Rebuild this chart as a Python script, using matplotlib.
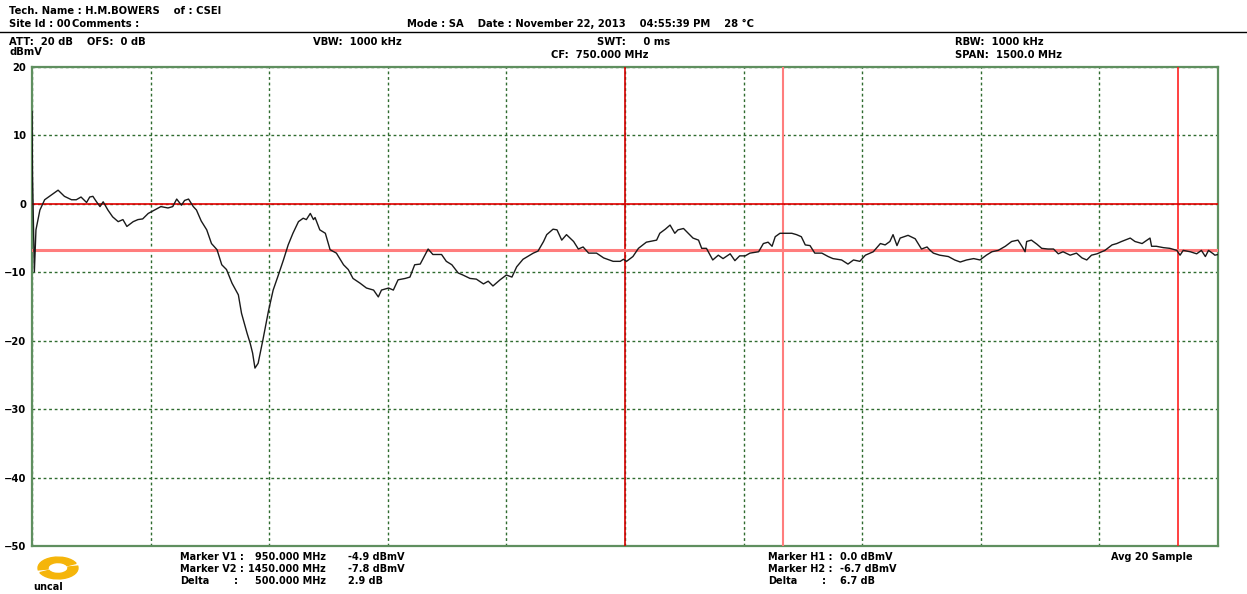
import matplotlib
matplotlib.use("Agg")
import matplotlib.pyplot as plt
from matplotlib.lines import Line2D
from matplotlib.patches import Wedge
from matplotlib import font_manager

# trace (MHz, dBmV)
freq = [0, 0.6, 3, 5, 10, 16, 22, 33, 41, 50, 56, 62, 69, 73, 77, 81, 86, 90,
        96, 102, 109, 115, 120, 128, 134, 140, 147, 155, 163, 172, 178, 183,
        189, 193, 198, 204, 208, 214, 221, 227, 234, 240, 246, 253, 261, 265,
        272, 276, 279, 282, 286, 292, 299, 305, 311, 318, 324, 330, 337, 343,
        347, 352, 356, 358, 364, 371, 377, 385, 394, 400, 406, 415, 423, 432,
        438, 442, 451, 457, 463, 472, 478, 484, 491, 501, 507, 518, 524, 531,
        539, 545, 554, 562, 571, 577, 583, 592, 600, 607, 613, 621, 634, 640,
        647, 651, 659, 664, 670, 676, 685, 691, 697, 704, 714, 723, 735, 744,
        748, 752, 760, 767, 777, 790, 794, 801, 807, 813, 817, 824, 830, 836,
        843, 847, 853, 861, 868, 874, 883, 889, 895, 902, 908, 919, 925, 931,
        936, 940, 946, 952, 961, 967, 973, 978, 984, 990, 999, 1007, 1013,
        1024, 1032, 1039, 1047, 1054, 1064, 1073, 1079, 1085, 1089, 1094, 1098,
        1108, 1117, 1125, 1132, 1136, 1140, 1148, 1159, 1167, 1174, 1182, 1191,
        1199, 1207, 1214, 1222, 1231, 1239, 1247, 1252, 1256, 1258, 1264, 1271,
        1277, 1285, 1292, 1298, 1304, 1313, 1321, 1328, 1334, 1340, 1347, 1351,
        1357, 1366, 1372, 1378, 1389, 1395, 1404, 1414, 1416, 1422, 1431, 1439,
        1448, 1452, 1456, 1465, 1473, 1479, 1484, 1488, 1494, 1496, 1500]
level = [13.5, 4.2, -9.9, -3.8, -0.9, 0.6, 1.1, 2.0, 1.1, 0.6, 0.6, 1.0, 0.2,
         1.0, 1.1, 0.4, -0.4, 0.3, -0.9, -1.9, -2.6, -2.3, -3.3, -2.6, -2.3,
         -2.2, -1.4, -0.9, -0.4, -0.6, -0.4, 0.7, -0.2, 0.5, 0.7, -0.4, -0.9,
         -2.5, -3.8, -5.8, -6.7, -8.9, -9.6, -11.6, -13.3, -16.0, -18.9, -20.4,
         -21.8, -24.0, -23.3, -19.9, -15.7, -12.6, -10.6, -8.2, -6.0, -4.3,
         -2.6, -2.1, -2.3, -1.4, -2.3, -2.0, -3.8, -4.3, -6.7, -7.2, -8.9,
         -9.6, -10.9, -11.6, -12.3, -12.6, -13.6, -12.6, -12.3, -12.6, -11.1,
         -10.9, -10.7, -8.9, -8.8, -6.6, -7.4, -7.4, -8.4, -8.9, -10.1, -10.4,
         -10.9, -11.0, -11.7, -11.3, -12.0, -11.1, -10.4, -10.7, -9.2, -8.1,
         -7.2, -6.9, -5.5, -4.5, -3.7, -3.8, -5.3, -4.5, -5.5, -6.6, -6.3,
         -7.2, -7.2, -7.9, -8.4, -8.4, -8.1, -8.4, -7.7, -6.5, -5.6, -5.3,
         -4.3, -3.7, -3.1, -4.3, -3.8, -3.6, -4.3, -5.0, -5.3, -6.5, -6.5,
         -8.2, -7.5, -8.0, -7.3, -8.3, -7.6, -7.6, -7.2, -7.0, -5.8, -5.6,
         -6.2, -4.8, -4.3, -4.3, -4.3, -4.5, -4.8, -6.0, -6.1, -7.2, -7.2,
         -7.7, -8.0, -8.2, -8.8, -8.2, -8.4, -7.5, -7.0, -5.8, -6.0, -5.5,
         -4.5, -6.1, -5.0, -4.6, -5.1, -6.6, -6.3, -6.8, -7.2, -7.5, -7.7,
         -8.2, -8.5, -8.2, -8.0, -8.2, -7.5, -7.0, -6.8, -6.2, -5.5, -5.3,
         -6.2, -7.0, -5.5, -5.3, -5.9, -6.5, -6.6, -6.6, -7.3, -7.0, -7.5,
         -7.2, -7.9, -8.2, -7.5, -7.3, -7.1, -6.8, -6.0, -5.8, -5.5, -5.0,
         -5.5, -5.8, -5.0, -6.2, -6.2, -6.4, -6.5, -6.8, -7.5, -6.8, -7.0,
         -7.3, -6.8, -7.7, -6.8, -7.3, -7.5, -7.4]

center_freq = 750
marker_v = [950, 1450]
marker_h = [0.0, -6.7]
y_ticks = [20, 10, 0, -10, -20, -30, -40, -50]

W, H = 1247, 594
names = {f.name for f in font_manager.fontManager.ttflist}
if 'DejaVu Sans Condensed' in names:
    plt.rcParams['font.family'] = ['DejaVu Sans Condensed', 'DejaVu Sans']
    FS, FS_FOOT = 8.1, 7.9
else:
    plt.rcParams['font.family'] = ['DejaVu Sans']
    FS, FS_FOOT = 7.2, 7.0

fig = plt.figure(figsize=(W / 100, H / 100), dpi=100)
ax = fig.add_axes([32 / W, 1 - 546 / H, 1186 / W, 479 / H])


def ftext(x, y, s, **kw):
    kw.setdefault('fontsize', FS)
    kw.setdefault('fontweight', 'bold')
    kw.setdefault('va', 'center')
    fig.text(x / W, 1 - y / H, s, **kw)


ax.set_xlim(0, 1500)
ax.set_ylim(-50, 20)
ax.set_xticks(range(0, 1501, 150))
ax.set_yticks(y_ticks)
ax.set_xticklabels([])
ax.tick_params(axis='x', length=0)
ax.tick_params(axis='y', length=0, pad=4, labelsize=FS)
for lab in ax.get_yticklabels():
    lab.set_fontweight('bold')
ax.grid(True, color='#2f6b2f', linestyle=(0, (2, 2)), linewidth=1)
for sp in ax.spines.values():
    sp.set_color('#5f8f5f')
    sp.set_linewidth(1.6)

# marker lines
ax.axvline(center_freq, color='#d40000', lw=1.2, zorder=3)
ax.axvline(marker_v[0], color='#ff7d7d', lw=1.5, zorder=3)
ax.axvline(marker_v[1], color='#ff2020', lw=1.2, zorder=3)
ax.axhline(marker_h[0], color='#e00000', lw=1.2, zorder=3)
ax.axhline(marker_h[1], color='#ff7d7d', lw=2.2, zorder=3)

ax.plot(freq, level, color='#1a1a1a', lw=1.0, zorder=4)

# header
ftext(9, 11, 'Tech. Name : H.M.BOWERS    of : CSEI')
ftext(9, 24, 'Site Id : 00')
ftext(72, 24, 'Comments :')
ftext(407, 24, 'Mode : SA    Date : November 22, 2013    04:55:39 PM    28 °C')
fig.add_artist(Line2D([0, 1], [1 - 32 / H, 1 - 32 / H], color='black', lw=1))
ftext(9, 42, 'ATT:  20 dB    OFS:  0 dB')
ftext(9, 52, 'dBmV')
ftext(313, 42, 'VBW:  1000 kHz')
ftext(597, 42, 'SWT:     0 ms')
ftext(551, 55, 'CF:  750.000 MHz')
ftext(955, 42, 'RBW:  1000 kHz')
ftext(955, 55, 'SPAN:  1500.0 MHz')

# footer marker readout
rows_v = [('Marker V1 :', '950.000 MHz', '-4.9 dBmV'),
          ('Marker V2 :', '1450.000 MHz', '-7.8 dBmV'),
          ('Delta', '500.000 MHz', '2.9 dB')]
for i, (a, b, c) in enumerate(rows_v):
    y = 557 + 12 * i
    ftext(180, y, a, fontsize=FS_FOOT)
    if a == 'Delta':
        ftext(234, y, ':', fontsize=FS_FOOT)
    ftext(326, y, b, ha='right', fontsize=FS_FOOT)
    ftext(348, y, c, fontsize=FS_FOOT)
rows_h = [('Marker H1 :', '0.0 dBmV'),
          ('Marker H2 :', '-6.7 dBmV'),
          ('Delta', '6.7 dB')]
for i, (a, b) in enumerate(rows_h):
    y = 557 + 12 * i
    ftext(768, y, a, fontsize=FS_FOOT)
    if a == 'Delta':
        ftext(822, y, ':', fontsize=FS_FOOT)
    ftext(840, y, b, fontsize=FS_FOOT)
ftext(1111, 557, 'Avg 20 Sample', fontsize=FS_FOOT)
ftext(33, 587, 'uncal', fontsize=FS_FOOT)

# logo swirl
lax = fig.add_axes([36 / W, 1 - 580 / H, 44 / W, 24 / H])
lax.set_xlim(-1.1, 1.1)
lax.set_ylim(-1.1, 1.1)
lax.axis('off')
lax.add_patch(Wedge((0, 0), 1, 25, 190, width=0.5, color='#f5b50a'))
lax.add_patch(Wedge((0, 0), 1, 205, 370, width=0.5, color='#f5b50a'))

fig.savefig('out.png', dpi=100)
